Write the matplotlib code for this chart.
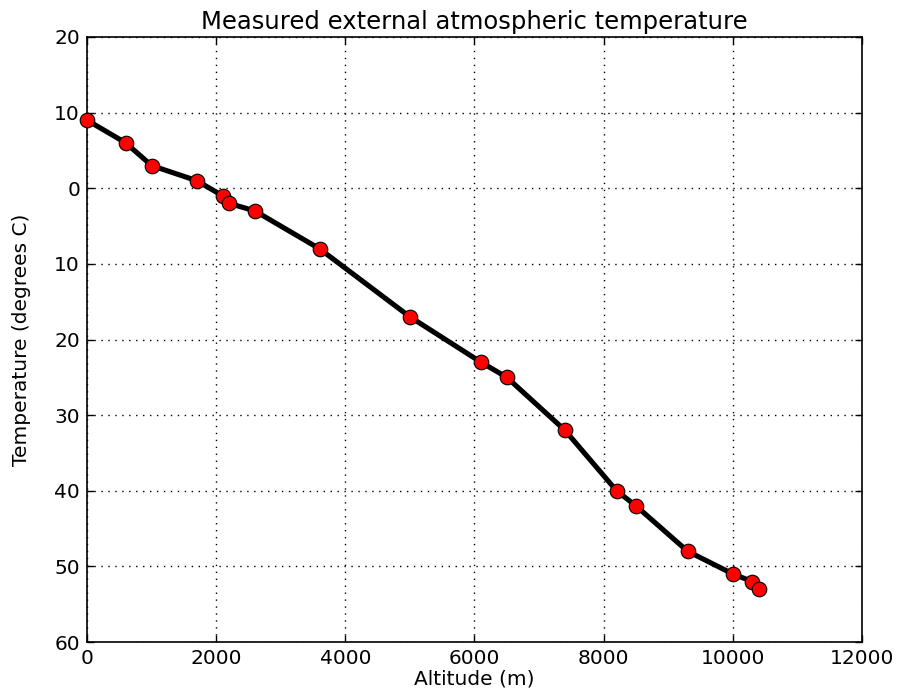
import matplotlib
matplotlib.use('Agg')
import matplotlib.pyplot as plt
from matplotlib.ticker import FuncFormatter

# altitude (m) e temperatura medida (graus C)
altitude = [0, 600, 1000, 1700, 2100, 2200, 2600, 3600, 5000, 6100,
            6500, 7400, 8200, 8500, 9300, 10000, 10300, 10400]
temperatura = [9, 6, 3, 1, -1, -2, -3, -8, -17, -23,
               -25, -32, -40, -42, -48, -51, -52, -53]

fig = plt.figure(figsize=(8.99, 6.97), dpi=100)
ax = fig.add_axes([87 / 899, 55 / 697, 775 / 899, 605 / 697])

ax.plot(altitude, temperatura, color='black', linewidth=3.7,
        marker='o', markersize=10.5, markerfacecolor='red',
        markeredgecolor='black', markeredgewidth=0.8, clip_on=False, zorder=3)

ax.set_xlim(0, 12000)
ax.set_ylim(-60, 20)
ax.set_xticks(range(0, 12001, 2000))
ax.set_yticks(range(-60, 21, 10))
# rótulos sem sinal de menos, como no original
ax.yaxis.set_major_formatter(FuncFormatter(lambda v, p: '%d' % abs(v)))

ax.grid(True, color='black', linestyle=(0, (1, 4)), linewidth=1)
ax.tick_params(direction='in', top=True, right=True, length=5, width=1,
               labelsize=14.5, pad=5)
for s in ax.spines.values():
    s.set_linewidth(1.2)

ax.set_xlabel('Altitude (m)', fontsize=14.5, labelpad=1)
ax.set_ylabel('Temperature (degrees C)', fontsize=14.5, labelpad=17)
ax.set_title('Measured external atmospheric temperature', fontsize=17.5, pad=6)

fig.savefig('out.png', dpi=100)
